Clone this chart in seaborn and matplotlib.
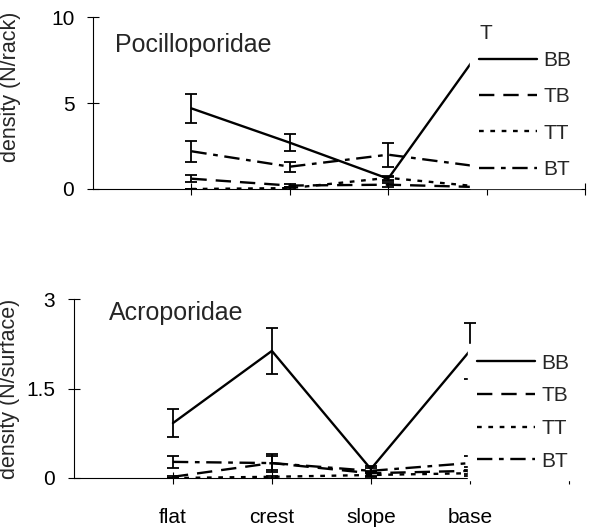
import numpy as np
import pandas as pd
import matplotlib
matplotlib.use("Agg")
import matplotlib.pyplot as plt
import seaborn as sns

sns.set_theme(style="white")
plt.rcParams['font.family'] = ['Liberation Sans', 'DejaVu Sans']

sites = ["flat", "crest", "slope", "base"]
series = ["BB", "TB", "TT", "BT"]

# Pocilloporidae (N/rack)
poc_BB = [4.7, 2.7, 0.6, 8.6]
poc_TB = [0.6, 0.2, 0.25, 0.1]
poc_TT = [0.0, 0.05, 0.65, 0.1]
poc_BT = [2.2, 1.3, 2.0, 1.25]
poc_BB_err = [0.85, 0.5, 0.12, 0.0]
poc_TB_err = [0.2, 0.1, 0.12, 0.0]
poc_TT_err = [0.0, 0.05, 0.1, 0.0]
poc_BT_err = [0.6, 0.3, 0.7, 0.0]

# Acroporidae (N/surface)
acr_BB = [0.92, 2.13, 0.15, 2.13]
acr_TB = [0.02, 0.25, 0.08, 0.12]
acr_TT = [0.0, 0.02, 0.05, 0.08]
acr_BT = [0.27, 0.25, 0.12, 0.25]
acr_BB_err = [0.24, 0.38, 0.05, 0.47]
acr_TB_err = [0.02, 0.12, 0.04, 0.06]
acr_TT_err = [0.0, 0.02, 0.03, 0.04]
acr_BT_err = [0.1, 0.15, 0.04, 0.12]

poc_vals = {"BB": poc_BB, "TB": poc_TB, "TT": poc_TT, "BT": poc_BT}
poc_errs = {"BB": poc_BB_err, "TB": poc_TB_err, "TT": poc_TT_err, "BT": poc_BT_err}
acr_vals = {"BB": acr_BB, "TB": acr_TB, "TT": acr_TT, "BT": acr_BT}
acr_errs = {"BB": acr_BB_err, "TB": acr_TB_err, "TT": acr_TT_err, "BT": acr_BT_err}

pos = np.arange(1, len(sites) + 1)

def long_df(vals):
    rows = []
    for s in series:
        for p, v in zip(pos, vals[s]):
            rows.append({"pos": p, "value": v, "T": s})
    return pd.DataFrame(rows)

dashes = {"BB": "", "TB": (6.5, 3.8), "TT": (2.0, 2.8), "BT": (6.5, 2.8, 2.0, 2.8)}

FS = 15
FS_TITLE = 18
FS_YLAB = 15.5
fig = plt.figure(figsize=(5.89, 5.27), dpi=100)
ax1 = fig.add_axes([0.158, 0.6414, 0.835, 0.3254])
ax2 = fig.add_axes([0.1256, 0.093, 0.840, 0.3396])

def draw(ax, vals, errs, ylim, yticks, yticklabels, ylabel, title, title_xy,
         leg_anchor, leg_title, labelspacing, ylabel_xy, show_xlabels):
    df = long_df(vals)
    sns.lineplot(data=df, x="pos", y="value", style="T", style_order=series,
                 dashes=dashes, color="black", linewidth=1.7, ax=ax,
                 legend=True, zorder=3)
    for s in series:
        ax.errorbar(pos, vals[s], yerr=errs[s], fmt="none", ecolor="black",
                    elinewidth=1.3, capsize=4.5, capthick=1.3, zorder=3)
    ax.set_xlim(0, 5)
    ax.set_ylim(*ylim)
    ax.set_yticks(yticks)
    ax.set_yticklabels(yticklabels)
    ax.set_xticks([1, 2, 3, 4, 5])
    if show_xlabels:
        ax.set_xticklabels(sites + [""])
    else:
        ax.set_xticklabels([])
    ax.set_xlabel("")
    ax.set_ylabel(ylabel, fontsize=FS_YLAB)
    ax.yaxis.set_label_coords(*ylabel_xy)
    for sp in ["top", "right"]:
        ax.spines[sp].set_visible(False)
    for sp in ["left", "bottom"]:
        ax.spines[sp].set_color("black")
        ax.spines[sp].set_linewidth(0.8)
    ax.tick_params(axis="y", direction="inout", length=9, width=0.8,
                   labelsize=FS, pad=9, left=True, colors="black")
    ax.tick_params(axis="x", direction="inout", length=9, width=0.8,
                   labelsize=FS, pad=17, bottom=True, colors="black")
    ax.set_facecolor("white")
    ax.text(title_xy[0], title_xy[1], title, transform=ax.transAxes,
            fontsize=FS_TITLE, ha="left", va="center")
    handles, labels = ax.get_legend_handles_labels()
    leg = ax.legend(handles, labels, loc="upper left",
                    bbox_to_anchor=leg_anchor, bbox_transform=fig.transFigure,
                    borderaxespad=0, frameon=True, fancybox=False,
                    facecolor="white", edgecolor="white", framealpha=1,
                    fontsize=FS, handlelength=2.75, handletextpad=0.33,
                    labelspacing=labelspacing, borderpad=0.45,
                    title=leg_title, title_fontsize=FS)
    if leg_title:
        leg._legend_box.align = "left"
        leg._legend_box.sep = 5.8
    for lh in leg.get_lines():
        lh.set_linewidth(1.7)
    leg.set_zorder(10)

draw(ax1, poc_vals, poc_errs, (0, 10), [0, 5, 10], ["0", "5", "10"],
     "density (N/rack)", "Pocilloporidae", (0.045, 0.84),
     (0.798, 0.972), "T", 0.83, (-0.146, 0.595), False)
draw(ax2, acr_vals, acr_errs, (0, 3), [0, 1.5, 3], ["0", "1.5", "3"],
     "density (N/surface)", "Acroporidae", (0.07, 0.92),
     (0.7946, 0.347), None, 0.66, (-0.109, 0.5), True)

fig.savefig("out.png", dpi=100, facecolor="white")
